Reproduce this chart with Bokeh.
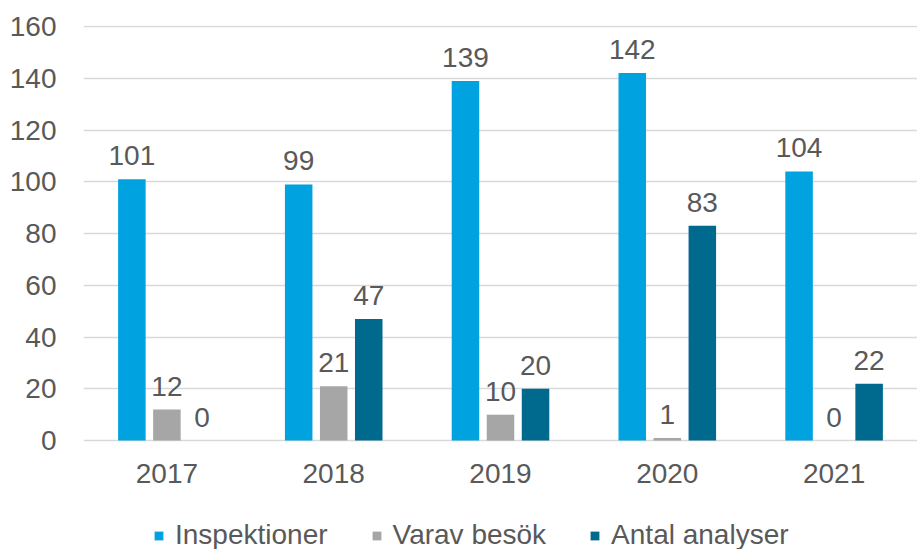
from bokeh.plotting import figure
from bokeh.models import ColumnDataSource, FactorRange, Range1d, FixedTicker, LabelSet, Legend, LegendItem
from bokeh.core.properties import value
from bokeh.transform import dodge
from bokeh.embed import file_html
from bokeh.resources import INLINE

years = ["2017", "2018", "2019", "2020", "2021"]
inspektioner = [101, 99, 139, 142, 104]
varav_besok = [12, 21, 10, 1, 0]
antal_analyser = [0, 47, 20, 83, 22]
series_names = ["Inspektioner", "Varav besök", "Antal analyser"]
colors = ["#00A2E0", "#A6A6A6", "#006A8E"]
y_ticks = [0, 20, 40, 60, 80, 100, 120, 140, 160]

FONT = "Liberation Sans"
TXT = "#595959"
FS = "28px"

src = ColumnDataSource(dict(
    year=years,
    zero=[0] * len(years),
    s0=inspektioner, s1=varav_besok, s2=antal_analyser,
    t0=[str(v) for v in inspektioner],
    t1=[str(v) for v in varav_besok],
    t2=[str(v) for v in antal_analyser],
))

# frame extends below zero so that the category labels and legend live inside it
p = figure(width=917, height=549, output_backend="svg", toolbar_location=None,
           x_range=FactorRange(*years, range_padding=0), y_range=Range1d(-42.1, 160.4),
           min_border_left=83, min_border_right=0, min_border_top=25, min_border_bottom=0)
p.outline_line_color = None
p.background_fill_color = "white"
p.border_fill_color = "white"

offsets = [-0.21, 0.0, 0.21]
items = []
for i, (name, col, off) in enumerate(zip(series_names, colors, offsets)):
    r = p.vbar(x=dodge("year", off, range=p.x_range), top=f"s{i}", bottom=0, width=0.165,
               source=src, fill_color=col, line_color=None)
    items.append(LegendItem(label=name, renderers=[r]))
    lbl = LabelSet(x=dodge("year", off, range=p.x_range), y=f"s{i}", text=f"t{i}", source=src,
                   text_align="center", text_baseline="alphabetic", y_offset=14,
                   text_font=value(FONT), text_font_size=value(FS), text_color=TXT)
    p.add_layout(lbl)

# category labels under the zero line
cat_lbl = LabelSet(x="year", y="zero", text="year", source=src,
                   text_align="center", text_baseline="top", y_offset=-23,
                   text_font=value(FONT), text_font_size=value(FS), text_color=TXT)
p.add_layout(cat_lbl)

p.yaxis.ticker = FixedTicker(ticks=y_ticks)
p.yaxis.axis_line_color = None
p.yaxis.major_tick_line_color = None
p.yaxis.minor_tick_line_color = None
p.yaxis.major_label_text_font = FONT
p.yaxis.major_label_text_font_size = FS
p.yaxis.major_label_text_color = TXT
p.yaxis.major_label_standoff = 21

p.xaxis.visible = False

p.xgrid.grid_line_color = None
p.ygrid.grid_line_color = "#D9D9D9"
p.ygrid.grid_line_width = 1.5

legend = Legend(items=items, orientation="horizontal", location=(70, -2),
                label_text_font=FONT, label_text_font_size=FS, label_text_color=TXT,
                glyph_width=11, glyph_height=11, spacing=43, label_standoff=11,
                border_line_color=None, background_fill_alpha=0, margin=0, padding=0)
p.add_layout(legend)

open("out.html", "w").write(file_html(p, INLINE))
